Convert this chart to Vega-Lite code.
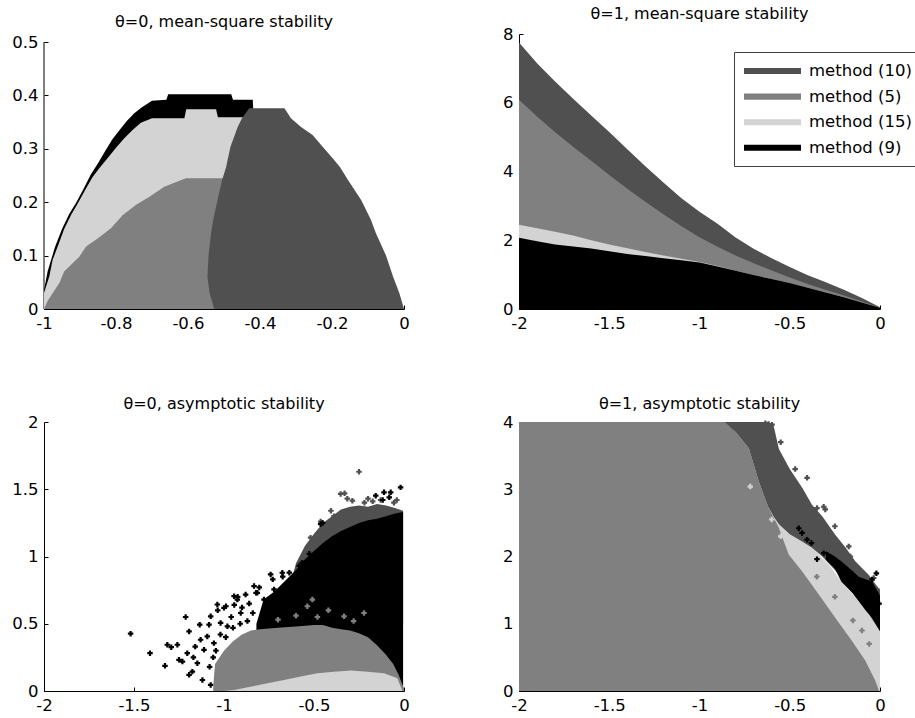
{
"$schema":"https://vega.github.io/schema/vega-lite/v6.json",
"background":"white",
"padding":{"left":11,"top":6,"right":0,"bottom":0},
"config":{
 "font":"DejaVu Sans",
 "view":{"stroke":null},
 "axis":{"domainColor":"black","domainWidth":1,"tickColor":"black","tickSize":-4,"tickWidth":1,"labelColor":"black","labelFont":"DejaVu Sans","labelFontSize":16.5,"labelPadding":10,"grid":false,"title":null,"labelFlush":false,"labelOverlap":false},
 "title":{"font":"DejaVu Sans","fontSize":16,"fontWeight":"normal","color":"black","offset":4,"anchor":"middle"}
},
"datasets":{
 "tl":[
  {"s":"9","x":-1,"y":0.035},{"s":"9","x":-0.99,"y":0.07},{"s":"9","x":-0.97,"y":0.115},{"s":"9","x":-0.95,"y":0.15},{"s":"9","x":-0.93,"y":0.178},{"s":"9","x":-0.91,"y":0.2},{"s":"9","x":-0.89,"y":0.225},{"s":"9","x":-0.87,"y":0.252},{"s":"9","x":-0.85,"y":0.273},{"s":"9","x":-0.83,"y":0.296},{"s":"9","x":-0.81,"y":0.318},{"s":"9","x":-0.79,"y":0.335},{"s":"9","x":-0.77,"y":0.352},{"s":"9","x":-0.75,"y":0.366},{"s":"9","x":-0.73,"y":0.377},{"s":"9","x":-0.7,"y":0.39},{"s":"9","x":-0.66,"y":0.392},{"s":"9","x":-0.655,"y":0.402},{"s":"9","x":-0.48,"y":0.402},{"s":"9","x":-0.475,"y":0.392},{"s":"9","x":-0.42,"y":0.392},{"s":"9","x":-0.418,"y":0.36},
  {"s":"15","x":-1,"y":0.03},{"s":"15","x":-0.985,"y":0.062},{"s":"15","x":-0.976,"y":0.092},{"s":"15","x":-0.957,"y":0.126},{"s":"15","x":-0.944,"y":0.15},{"s":"15","x":-0.925,"y":0.176},{"s":"15","x":-0.906,"y":0.198},{"s":"15","x":-0.883,"y":0.226},{"s":"15","x":-0.865,"y":0.247},{"s":"15","x":-0.846,"y":0.264},{"s":"15","x":-0.823,"y":0.283},{"s":"15","x":-0.8,"y":0.302},{"s":"15","x":-0.777,"y":0.32},{"s":"15","x":-0.754,"y":0.335},{"s":"15","x":-0.731,"y":0.349},{"s":"15","x":-0.7,"y":0.357},{"s":"15","x":-0.61,"y":0.357},{"s":"15","x":-0.605,"y":0.374},{"s":"15","x":-0.522,"y":0.374},{"s":"15","x":-0.517,"y":0.359},{"s":"15","x":-0.42,"y":0.359},
  {"s":"5","x":-1,"y":0.0},{"s":"5","x":-0.99,"y":0.015},{"s":"5","x":-0.957,"y":0.049},{"s":"5","x":-0.944,"y":0.07},{"s":"5","x":-0.902,"y":0.098},{"s":"5","x":-0.883,"y":0.117},{"s":"5","x":-0.851,"y":0.132},{"s":"5","x":-0.814,"y":0.151},{"s":"5","x":-0.781,"y":0.176},{"s":"5","x":-0.744,"y":0.195},{"s":"5","x":-0.707,"y":0.21},{"s":"5","x":-0.666,"y":0.229},{"s":"5","x":-0.606,"y":0.245},{"s":"5","x":-0.49,"y":0.245}
 ],
 "tld":[
  {"y":0,"xa":-0.527,"xb":0.0},{"y":0.03,"xa":-0.54,"xb":-0.013},{"y":0.06,"xa":-0.546,"xb":-0.03},{"y":0.1,"xa":-0.543,"xb":-0.05},{"y":0.142,"xa":-0.536,"xb":-0.078},{"y":0.167,"xa":-0.53,"xb":-0.092},{"y":0.204,"xa":-0.518,"xb":-0.119},{"y":0.242,"xa":-0.505,"xb":-0.156},{"y":0.266,"xa":-0.494,"xb":-0.178},{"y":0.279,"xa":-0.49,"xb":-0.194},{"y":0.304,"xa":-0.482,"xb":-0.226},{"y":0.326,"xa":-0.47,"xb":-0.254},{"y":0.341,"xa":-0.462,"xb":-0.286},{"y":0.357,"xa":-0.45,"xb":-0.314},{"y":0.376,"xa":-0.43,"xb":-0.332}
 ],
 "tlaxis":[{"x":-1,"y0":0,"y1":0.5}],
 "tr":[
  {"m":"method (10)","x":-2,"y":7.75},{"m":"method (10)","x":-1.9,"y":7.15},{"m":"method (10)","x":-1.8,"y":6.62},{"m":"method (10)","x":-1.7,"y":6.12},{"m":"method (10)","x":-1.6,"y":5.63},{"m":"method (10)","x":-1.5,"y":5.15},{"m":"method (10)","x":-1.4,"y":4.65},{"m":"method (10)","x":-1.3,"y":4.15},{"m":"method (10)","x":-1.2,"y":3.68},{"m":"method (10)","x":-1.1,"y":3.22},{"m":"method (10)","x":-1.0,"y":2.83},{"m":"method (10)","x":-0.9,"y":2.48},{"m":"method (10)","x":-0.8,"y":2.08},{"m":"method (10)","x":-0.7,"y":1.75},{"m":"method (10)","x":-0.6,"y":1.48},{"m":"method (10)","x":-0.5,"y":1.22},{"m":"method (10)","x":-0.4,"y":0.98},{"m":"method (10)","x":-0.3,"y":0.78},{"m":"method (10)","x":-0.2,"y":0.56},{"m":"method (10)","x":-0.1,"y":0.32},{"m":"method (10)","x":0,"y":0.05},
  {"m":"method (5)","x":-2,"y":6.09},{"m":"method (5)","x":-1.9,"y":5.6},{"m":"method (5)","x":-1.8,"y":5.14},{"m":"method (5)","x":-1.7,"y":4.72},{"m":"method (5)","x":-1.6,"y":4.31},{"m":"method (5)","x":-1.5,"y":3.9},{"m":"method (5)","x":-1.4,"y":3.5},{"m":"method (5)","x":-1.3,"y":3.12},{"m":"method (5)","x":-1.2,"y":2.76},{"m":"method (5)","x":-1.1,"y":2.41},{"m":"method (5)","x":-1.0,"y":2.09},{"m":"method (5)","x":-0.9,"y":1.81},{"m":"method (5)","x":-0.8,"y":1.56},{"m":"method (5)","x":-0.7,"y":1.33},{"m":"method (5)","x":-0.6,"y":1.12},{"m":"method (5)","x":-0.5,"y":0.92},{"m":"method (5)","x":-0.4,"y":0.73},{"m":"method (5)","x":-0.3,"y":0.55},{"m":"method (5)","x":-0.2,"y":0.39},{"m":"method (5)","x":-0.1,"y":0.22},{"m":"method (5)","x":0,"y":0.04},
  {"m":"method (15)","x":-2,"y":2.45},{"m":"method (15)","x":-1.9,"y":2.35},{"m":"method (15)","x":-1.8,"y":2.25},{"m":"method (15)","x":-1.7,"y":2.14},{"m":"method (15)","x":-1.6,"y":2.0},{"m":"method (15)","x":-1.5,"y":1.88},{"m":"method (15)","x":-1.4,"y":1.77},{"m":"method (15)","x":-1.3,"y":1.66},{"m":"method (15)","x":-1.2,"y":1.56},{"m":"method (15)","x":-1.1,"y":1.46},{"m":"method (15)","x":-1.0,"y":1.37},{"m":"method (15)","x":-0.9,"y":1.25},{"m":"method (15)","x":-0.8,"y":1.11},{"m":"method (15)","x":-0.7,"y":0.99},{"m":"method (15)","x":-0.6,"y":0.87},{"m":"method (15)","x":-0.5,"y":0.76},{"m":"method (15)","x":-0.4,"y":0.62},{"m":"method (15)","x":-0.3,"y":0.48},{"m":"method (15)","x":-0.2,"y":0.34},{"m":"method (15)","x":-0.1,"y":0.19},{"m":"method (15)","x":0,"y":0.04},
  {"m":"method (9)","x":-2,"y":2.07},{"m":"method (9)","x":-1.9,"y":1.97},{"m":"method (9)","x":-1.8,"y":1.88},{"m":"method (9)","x":-1.7,"y":1.82},{"m":"method (9)","x":-1.6,"y":1.76},{"m":"method (9)","x":-1.5,"y":1.68},{"m":"method (9)","x":-1.4,"y":1.6},{"m":"method (9)","x":-1.3,"y":1.54},{"m":"method (9)","x":-1.2,"y":1.48},{"m":"method (9)","x":-1.1,"y":1.42},{"m":"method (9)","x":-1.0,"y":1.35},{"m":"method (9)","x":-0.9,"y":1.24},{"m":"method (9)","x":-0.8,"y":1.11},{"m":"method (9)","x":-0.7,"y":0.99},{"m":"method (9)","x":-0.6,"y":0.87},{"m":"method (9)","x":-0.5,"y":0.76},{"m":"method (9)","x":-0.4,"y":0.62},{"m":"method (9)","x":-0.3,"y":0.48},{"m":"method (9)","x":-0.2,"y":0.34},{"m":"method (9)","x":-0.1,"y":0.19},{"m":"method (9)","x":0,"y":0.04}
 ],
 "bla":[
  {"s":"10","x":-0.62,"y":0.85,"y2":0.5},{"s":"10","x":-0.6,"y":0.95,"y2":0.5},{"s":"10","x":-0.55,"y":1.08,"y2":0.5},{"s":"10","x":-0.5,"y":1.17,"y2":0.5},{"s":"10","x":-0.45,"y":1.25,"y2":0.5},{"s":"10","x":-0.4,"y":1.3,"y2":0.5},{"s":"10","x":-0.35,"y":1.35,"y2":0.5},{"s":"10","x":-0.3,"y":1.37,"y2":0.5},{"s":"10","x":-0.25,"y":1.38,"y2":0.5},{"s":"10","x":-0.2,"y":1.37,"y2":0.5},{"s":"10","x":-0.15,"y":1.39,"y2":0.5},{"s":"10","x":-0.1,"y":1.38,"y2":0.5},{"s":"10","x":-0.05,"y":1.36,"y2":0.5},{"s":"10","x":-0.005,"y":1.34,"y2":0.5},
  {"s":"9","x":-0.82,"y":0.5,"y2":0},{"s":"9","x":-0.78,"y":0.68,"y2":0},{"s":"9","x":-0.72,"y":0.74,"y2":0},{"s":"9","x":-0.66,"y":0.82,"y2":0},{"s":"9","x":-0.6,"y":0.9,"y2":0},{"s":"9","x":-0.55,"y":0.98,"y2":0},{"s":"9","x":-0.5,"y":1.04,"y2":0},{"s":"9","x":-0.45,"y":1.1,"y2":0},{"s":"9","x":-0.4,"y":1.15,"y2":0},{"s":"9","x":-0.35,"y":1.19,"y2":0},{"s":"9","x":-0.3,"y":1.22,"y2":0},{"s":"9","x":-0.25,"y":1.25,"y2":0},{"s":"9","x":-0.2,"y":1.27,"y2":0},{"s":"9","x":-0.15,"y":1.28,"y2":0},{"s":"9","x":-0.1,"y":1.3,"y2":0},{"s":"9","x":-0.05,"y":1.32,"y2":0},{"s":"9","x":-0.005,"y":1.33,"y2":0},
  {"s":"5","x":-1.06,"y":0.03,"y2":0},{"s":"5","x":-1.05,"y":0.2,"y2":0},{"s":"5","x":-1.0,"y":0.3,"y2":0},{"s":"5","x":-0.95,"y":0.37,"y2":0},{"s":"5","x":-0.9,"y":0.42,"y2":0},{"s":"5","x":-0.85,"y":0.45,"y2":0},{"s":"5","x":-0.8,"y":0.46,"y2":0},{"s":"5","x":-0.7,"y":0.47,"y2":0},{"s":"5","x":-0.6,"y":0.48,"y2":0},{"s":"5","x":-0.5,"y":0.49,"y2":0},{"s":"5","x":-0.45,"y":0.49,"y2":0},{"s":"5","x":-0.4,"y":0.47,"y2":0},{"s":"5","x":-0.35,"y":0.46,"y2":0},{"s":"5","x":-0.3,"y":0.45,"y2":0},{"s":"5","x":-0.25,"y":0.43,"y2":0},{"s":"5","x":-0.2,"y":0.4,"y2":0},{"s":"5","x":-0.15,"y":0.34,"y2":0},{"s":"5","x":-0.1,"y":0.27,"y2":0},{"s":"5","x":-0.06,"y":0.2,"y2":0},{"s":"5","x":-0.03,"y":0.12,"y2":0},{"s":"5","x":-0.01,"y":0.05,"y2":0},{"s":"5","x":0,"y":0.02,"y2":0},
  {"s":"15","x":-1.0,"y":0.0,"y2":0},{"s":"15","x":-0.944,"y":0.007,"y2":0},{"s":"15","x":-0.833,"y":0.037,"y2":0},{"s":"15","x":-0.759,"y":0.057,"y2":0},{"s":"15","x":-0.667,"y":0.082,"y2":0},{"s":"15","x":-0.574,"y":0.107,"y2":0},{"s":"15","x":-0.481,"y":0.132,"y2":0},{"s":"15","x":-0.389,"y":0.144,"y2":0},{"s":"15","x":-0.296,"y":0.152,"y2":0},{"s":"15","x":-0.204,"y":0.144,"y2":0},{"s":"15","x":-0.111,"y":0.132,"y2":0},{"s":"15","x":-0.037,"y":0.095,"y2":0},{"s":"15","x":-0.009,"y":0.0,"y2":0}
 ],
 "blp":[
  {"s":"9","x":-1.519,"y":0.426},{"s":"9","x":-1.411,"y":0.281},{"s":"9","x":-1.328,"y":0.187},{"s":"9","x":-1.315,"y":0.344},{"s":"9","x":-1.293,"y":0.326},{"s":"9","x":-1.259,"y":0.344},{"s":"9","x":-1.25,"y":0.232},{"s":"9","x":-1.231,"y":0.219},{"s":"9","x":-1.213,"y":0.55},{"s":"9","x":-1.194,"y":0.443},{"s":"9","x":-1.204,"y":0.281},{"s":"9","x":-1.194,"y":0.12},{"s":"9","x":-1.176,"y":0.144},{"s":"9","x":-1.148,"y":0.207},{"s":"9","x":-1.135,"y":0.493},{"s":"9","x":-1.13,"y":0.381},{"s":"9","x":-1.111,"y":0.306},{"s":"9","x":-1.12,"y":0.082},{"s":"9","x":-1.083,"y":0.493},{"s":"9","x":-1.074,"y":0.555},{"s":"9","x":-1.093,"y":0.406},{"s":"9","x":-1.056,"y":0.356},{"s":"9","x":-1.074,"y":0.045},{"s":"9","x":-1.037,"y":0.643},{"s":"9","x":-1.019,"y":0.506},{"s":"9","x":-1.0,"y":0.618},{"s":"9","x":-0.981,"y":0.481},{"s":"9","x":-0.944,"y":0.705},{"s":"9","x":-0.926,"y":0.68},{"s":"9","x":-0.907,"y":0.58},{"s":"9","x":-0.88,"y":0.717},{"s":"9","x":-0.833,"y":0.78},{"s":"9","x":-0.815,"y":0.73},{"s":"9","x":-0.778,"y":0.68},{"s":"9","x":-0.741,"y":0.867},{"s":"9","x":-0.722,"y":0.755},{"s":"9","x":-0.676,"y":0.879},{"s":"9","x":-0.611,"y":0.854},{"s":"9","x":-0.565,"y":0.954},{"s":"9","x":-0.463,"y":1.24},{"s":"9","x":-0.157,"y":1.452},{"s":"9","x":-0.111,"y":1.477},{"s":"9","x":-0.074,"y":1.477},{"s":"9","x":-0.019,"y":1.514},{"s":"9","x":-0.082,"y":1.44},{"s":"9","x":-0.118,"y":1.42},{"s":"9","x":-0.452,"y":1.25},{"s":"9","x":-0.526,"y":1.02},{"s":"9","x":-0.582,"y":0.93},{"s":"9","x":-0.637,"y":0.88},{"s":"9","x":-0.674,"y":0.85},{"s":"9","x":-0.729,"y":0.83},{"s":"9","x":-0.804,"y":0.77},{"s":"9","x":-0.822,"y":0.73},{"s":"9","x":-0.924,"y":0.7},{"s":"9","x":-0.943,"y":0.64},{"s":"9","x":-0.989,"y":0.63},{"s":"9","x":-1.035,"y":0.6},{"s":"9","x":-1.045,"y":0.3},{"s":"9","x":-1.02,"y":0.42},{"s":"9","x":-0.99,"y":0.4},{"s":"9","x":-0.96,"y":0.55},{"s":"9","x":-0.9,"y":0.62},{"s":"9","x":-0.86,"y":0.65},{"s":"9","x":-0.95,"y":0.47},{"s":"9","x":-0.87,"y":0.52},{"s":"9","x":-0.84,"y":0.58},{"s":"9","x":-0.91,"y":0.5},{"s":"9","x":-1.06,"y":0.25},{"s":"9","x":-1.08,"y":0.18},{"s":"9","x":-1.16,"y":0.33},{"s":"9","x":-1.17,"y":0.25},
  {"s":"10","x":-0.352,"y":1.465},{"s":"10","x":-0.287,"y":1.415},{"s":"10","x":-0.25,"y":1.63},{"s":"10","x":-0.389,"y":1.3},{"s":"10","x":-0.315,"y":1.43},{"s":"10","x":-0.13,"y":1.42},{"s":"10","x":-0.056,"y":1.4},{"s":"10","x":-0.463,"y":1.26},{"s":"10","x":-0.519,"y":1.14},{"s":"10","x":-0.174,"y":1.41},{"s":"10","x":-0.406,"y":1.34},{"s":"10","x":-0.2,"y":1.43},{"s":"10","x":-0.04,"y":1.42},{"s":"10","x":-0.33,"y":1.47},{"s":"10","x":-0.22,"y":1.4},
  {"s":"5","x":-0.537,"y":0.63},{"s":"5","x":-0.509,"y":0.68},{"s":"5","x":-0.333,"y":0.555},{"s":"5","x":-0.222,"y":0.58},{"s":"5","x":-0.481,"y":0.55},{"s":"5","x":-0.6,"y":0.56},{"s":"5","x":-0.42,"y":0.6},{"s":"5","x":-0.7,"y":0.53},{"s":"5","x":-0.28,"y":0.52}
 ],
 "bra":[
  {"s":"15","x":-0.62,"y":2.74,"y2":0},{"s":"15","x":-0.56,"y":2.48,"y2":0},{"s":"15","x":-0.5,"y":2.33,"y2":0},{"s":"15","x":-0.45,"y":2.25,"y2":0},{"s":"15","x":-0.377,"y":2.13,"y2":0},{"s":"15","x":-0.284,"y":1.88,"y2":0},{"s":"15","x":-0.215,"y":1.63,"y2":0},{"s":"15","x":-0.118,"y":1.34,"y2":0},{"s":"15","x":-0.044,"y":1.09,"y2":0},{"s":"15","x":0,"y":0.89,"y2":0},
  {"s":"5","x":-2,"y":4,"y2":0},{"s":"5","x":-0.85,"y":4,"y2":0},{"s":"5","x":-0.8,"y":3.85,"y2":0},{"s":"5","x":-0.727,"y":3.61,"y2":0},{"s":"5","x":-0.672,"y":3.12,"y2":0},{"s":"5","x":-0.617,"y":2.72,"y2":0},{"s":"5","x":-0.561,"y":2.43,"y2":0},{"s":"5","x":-0.506,"y":2.03,"y2":0},{"s":"5","x":-0.432,"y":1.78,"y2":0},{"s":"5","x":-0.34,"y":1.44,"y2":0},{"s":"5","x":-0.248,"y":1.09,"y2":0},{"s":"5","x":-0.155,"y":0.745,"y2":0},{"s":"5","x":-0.081,"y":0.45,"y2":0},{"s":"5","x":-0.026,"y":0.153,"y2":0},{"s":"5","x":-0.005,"y":0.0,"y2":0},
  {"s":"10","x":-0.86,"y":4,"y2":4},{"s":"10","x":-0.8,"y":4,"y2":3.85},{"s":"10","x":-0.727,"y":4,"y2":3.61},{"s":"10","x":-0.672,"y":4,"y2":3.12},{"s":"10","x":-0.62,"y":4,"y2":2.74},{"s":"10","x":-0.59,"y":3.95,"y2":2.6},{"s":"10","x":-0.56,"y":3.6,"y2":2.48},{"s":"10","x":-0.5,"y":3.3,"y2":2.33},{"s":"10","x":-0.43,"y":3.02,"y2":2.22},{"s":"10","x":-0.377,"y":2.77,"y2":2.13},{"s":"10","x":-0.32,"y":2.6,"y2":2.0},{"s":"10","x":-0.25,"y":2.33,"y2":1.8},{"s":"10","x":-0.19,"y":2.13,"y2":1.6},{"s":"10","x":-0.137,"y":1.93,"y2":1.4},{"s":"10","x":-0.063,"y":1.73,"y2":1.15},{"s":"10","x":0,"y":1.5,"y2":0.89},
  {"s":"9","x":-0.3,"y":2.08,"y2":1.95},{"s":"9","x":-0.25,"y":2.0,"y2":1.82},{"s":"9","x":-0.215,"y":1.93,"y2":1.63},{"s":"9","x":-0.15,"y":1.78,"y2":1.45},{"s":"9","x":-0.118,"y":1.7,"y2":1.34},{"s":"9","x":-0.08,"y":1.66,"y2":1.2},{"s":"9","x":-0.044,"y":1.63,"y2":1.09},{"s":"9","x":0,"y":1.42,"y2":0.89}
 ],
 "brp":[
  {"s":"10","x":-0.617,"y":3.97},{"s":"10","x":-0.598,"y":3.96},{"s":"10","x":-0.635,"y":3.98},{"s":"10","x":-0.58,"y":3.59},{"s":"10","x":-0.404,"y":3.17},{"s":"10","x":-0.349,"y":2.72},{"s":"10","x":-0.303,"y":2.7},{"s":"10","x":-0.312,"y":2.74},{"s":"10","x":-0.173,"y":2.15},{"s":"10","x":-0.164,"y":2.0},{"s":"10","x":-0.127,"y":1.81},{"s":"10","x":-0.035,"y":1.68},{"s":"10","x":-0.017,"y":1.51},{"s":"10","x":-0.55,"y":3.7},{"s":"10","x":-0.47,"y":3.3},{"s":"10","x":-0.25,"y":2.45},
  {"s":"9","x":-0.432,"y":2.35},{"s":"9","x":-0.404,"y":2.25},{"s":"9","x":-0.312,"y":2.05},{"s":"9","x":-0.349,"y":1.96},{"s":"9","x":-0.044,"y":1.66},{"s":"9","x":-0.38,"y":2.2},{"s":"9","x":-0.45,"y":2.42},{"s":"9","x":-0.26,"y":1.95},{"s":"9","x":-0.02,"y":1.75},{"s":"9","x":-0.005,"y":1.3},
  {"s":"15","x":-0.719,"y":3.04},{"s":"15","x":-0.6,"y":2.55},{"s":"15","x":-0.55,"y":2.3},{"s":"15","x":-0.45,"y":2.0},{"s":"15","x":-0.4,"y":1.8},{"s":"15","x":-0.3,"y":1.45},{"s":"15","x":-0.2,"y":1.1},{"s":"15","x":-0.1,"y":0.7},{"s":"15","x":-0.05,"y":0.4},
  {"s":"5","x":-0.35,"y":1.7},{"s":"5","x":-0.25,"y":1.4},{"s":"5","x":-0.15,"y":1.05},{"s":"5","x":-0.1,"y":0.9},{"s":"5","x":-0.06,"y":0.7}
 ]
},
"vconcat":[
 {"hconcat":[
  {"width":360,"height":275,
   "title":{"text":"θ=0, mean-square stability"},
   "layer":[
    {"data":{"name":"tlaxis"},"mark":{"type":"rule","color":"black","strokeWidth":1},
     "encoding":{"x":{"field":"x","type":"quantitative","scale":{"domain":[-1,0],"nice":false,"zero":false},"axis":{"values":[-1,-0.8,-0.6,-0.4,-0.2,0],"labelExpr":"datum.value < 0 ? '-' + format(-datum.value, '~g') : format(datum.value, '~g')"}},
                 "y":{"field":"y0","type":"quantitative","scale":{"domain":[0,0.515],"nice":false},"axis":{"domain":false,"values":[0,0.1,0.2,0.3,0.4,0.5],"labelExpr":"format(datum.value, '~g')"}},
                 "y2":{"field":"y1"}}},
    {"data":{"name":"tl"},"transform":[{"filter":"datum.s==='9'"}],"mark":{"type":"area","color":"black"},
     "encoding":{"x":{"field":"x","type":"quantitative"},"y":{"field":"y","type":"quantitative"}}},
    {"data":{"name":"tl"},"transform":[{"filter":"datum.s==='15'"}],"mark":{"type":"area","color":"#d3d3d3"},
     "encoding":{"x":{"field":"x","type":"quantitative"},"y":{"field":"y","type":"quantitative"}}},
    {"data":{"name":"tl"},"transform":[{"filter":"datum.s==='5'"}],"mark":{"type":"area","color":"#808080"},
     "encoding":{"x":{"field":"x","type":"quantitative"},"y":{"field":"y","type":"quantitative"}}},
    {"data":{"name":"tld"},"mark":{"type":"area","orient":"horizontal","color":"#505050"},
     "encoding":{"y":{"field":"y","type":"quantitative"},"x":{"field":"xa","type":"quantitative"},"x2":{"field":"xb"}}}
   ]},
  {"width":361,"height":275,
   "title":{"text":"θ=1, mean-square stability"},
   "data":{"name":"tr"},
   "encoding":{
     "x":{"field":"x","type":"quantitative","scale":{"domain":[-2,0],"nice":false,"zero":false},"axis":{"values":[-2,-1.5,-1,-0.5,0],"labelExpr":"datum.value < 0 ? '-' + format(-datum.value, '~g') : format(datum.value, '~g')"}},
     "y":{"field":"y","type":"quantitative","stack":null,"scale":{"domain":[0,8],"nice":false},"axis":{"values":[0,2,4,6,8],"labelExpr":"format(datum.value, '~g')"}},
     "color":{"field":"m","type":"nominal","scale":{"domain":["method (10)","method (5)","method (15)","method (9)"],"range":["#505050","#808080","#d3d3d3","#000000"]},
       "legend":{"orient":"none","legendX":215,"legendY":18,"title":null,"symbolType":"M-3,-0.32H3V0.32H-3Z","symbolSize":361,"symbolStrokeWidth":0,"symbolOffset":19.5,"labelOffset":27,"labelFont":"DejaVu Sans","labelFontSize":16.5,"labelColor":"black","padding":9.5,"rowPadding":7.6,"strokeColor":"#404040","fillColor":"white","symbolOpacity":1}}
   },
   "layer":[
    {"transform":[{"filter":"datum.m==='method (10)'"}],"mark":{"type":"area","opacity":1}},
    {"transform":[{"filter":"datum.m==='method (5)'"}],"mark":{"type":"area","opacity":1}},
    {"transform":[{"filter":"datum.m==='method (15)'"}],"mark":{"type":"area","opacity":1}},
    {"transform":[{"filter":"datum.m==='method (9)'"}],"mark":{"type":"area","opacity":1}}
   ]}
 ],"spacing":92,"resolve":{"scale":{"color":"independent"},"legend":{"color":"independent"}}},
 {"hconcat":[
  {"width":360,"height":269,
   "title":{"text":"θ=0, asymptotic stability","offset":2},
   "layer":[
    {"data":{"name":"bla"},"transform":[{"filter":"datum.s==='10'"}],"mark":{"type":"area","color":"#505050"},
     "encoding":{"x":{"field":"x","type":"quantitative","scale":{"domain":[-2,0],"nice":false,"zero":false},"axis":{"values":[-2,-1.5,-1,-0.5,0],"labelExpr":"datum.value < 0 ? '-' + format(-datum.value, '~g') : format(datum.value, '~g')"}},
                 "y":{"field":"y","type":"quantitative","scale":{"domain":[0,2],"nice":false},"axis":{"values":[0,0.5,1,1.5,2],"labelExpr":"format(datum.value, '~g')"}},
                 "y2":{"field":"y2"}}},
    {"data":{"name":"blp"},"transform":[{"filter":"datum.s==='10'"}],"mark":{"type":"point","filled":true,"shape":"cross","size":30,"opacity":1,"color":"#505050"},
     "encoding":{"x":{"field":"x","type":"quantitative"},"y":{"field":"y","type":"quantitative"}}},
    {"data":{"name":"bla"},"transform":[{"filter":"datum.s==='9'"}],"mark":{"type":"area","color":"black"},
     "encoding":{"x":{"field":"x","type":"quantitative"},"y":{"field":"y","type":"quantitative"},"y2":{"field":"y2"}}},
    {"data":{"name":"blp"},"transform":[{"filter":"datum.s==='9'"}],"mark":{"type":"point","filled":true,"shape":"cross","size":30,"opacity":1,"color":"black"},
     "encoding":{"x":{"field":"x","type":"quantitative"},"y":{"field":"y","type":"quantitative"}}},
    {"data":{"name":"bla"},"transform":[{"filter":"datum.s==='5'"}],"mark":{"type":"area","color":"#808080"},
     "encoding":{"x":{"field":"x","type":"quantitative"},"y":{"field":"y","type":"quantitative"},"y2":{"field":"y2"}}},
    {"data":{"name":"blp"},"transform":[{"filter":"datum.s==='5'"}],"mark":{"type":"point","filled":true,"shape":"cross","size":30,"opacity":1,"color":"#808080"},
     "encoding":{"x":{"field":"x","type":"quantitative"},"y":{"field":"y","type":"quantitative"}}},
    {"data":{"name":"bla"},"transform":[{"filter":"datum.s==='15'"}],"mark":{"type":"area","color":"#d3d3d3"},
     "encoding":{"x":{"field":"x","type":"quantitative"},"y":{"field":"y","type":"quantitative"},"y2":{"field":"y2"}}}
   ]},
  {"width":361,"height":269,
   "title":{"text":"θ=1, asymptotic stability","offset":2},
   "layer":[
    {"data":{"name":"bra"},"transform":[{"filter":"datum.s==='15'"}],"mark":{"type":"area","color":"#d3d3d3"},
     "encoding":{"x":{"field":"x","type":"quantitative","scale":{"domain":[-2,0],"nice":false,"zero":false},"axis":{"values":[-2,-1.5,-1,-0.5,0],"labelExpr":"datum.value < 0 ? '-' + format(-datum.value, '~g') : format(datum.value, '~g')"}},
                 "y":{"field":"y","type":"quantitative","scale":{"domain":[0,4],"nice":false},"axis":{"values":[0,1,2,3,4],"labelExpr":"format(datum.value, '~g')"}},
                 "y2":{"field":"y2"}}},
    {"data":{"name":"bra"},"transform":[{"filter":"datum.s==='5'"}],"mark":{"type":"area","color":"#808080"},
     "encoding":{"x":{"field":"x","type":"quantitative"},"y":{"field":"y","type":"quantitative"},"y2":{"field":"y2"}}},
    {"data":{"name":"brp"},"transform":[{"filter":"datum.s==='15'"}],"mark":{"type":"point","filled":true,"shape":"cross","size":30,"opacity":1,"color":"#d3d3d3"},
     "encoding":{"x":{"field":"x","type":"quantitative"},"y":{"field":"y","type":"quantitative"}}},
    {"data":{"name":"brp"},"transform":[{"filter":"datum.s==='5'"}],"mark":{"type":"point","filled":true,"shape":"cross","size":30,"opacity":1,"color":"#808080"},
     "encoding":{"x":{"field":"x","type":"quantitative"},"y":{"field":"y","type":"quantitative"}}},
    {"data":{"name":"bra"},"transform":[{"filter":"datum.s==='10'"}],"mark":{"type":"area","color":"#505050"},
     "encoding":{"x":{"field":"x","type":"quantitative"},"y":{"field":"y","type":"quantitative"},"y2":{"field":"y2"}}},
    {"data":{"name":"brp"},"transform":[{"filter":"datum.s==='10'"}],"mark":{"type":"point","filled":true,"shape":"cross","size":30,"opacity":1,"color":"#505050"},
     "encoding":{"x":{"field":"x","type":"quantitative"},"y":{"field":"y","type":"quantitative"}}},
    {"data":{"name":"bra"},"transform":[{"filter":"datum.s==='9'"}],"mark":{"type":"area","color":"black"},
     "encoding":{"x":{"field":"x","type":"quantitative"},"y":{"field":"y","type":"quantitative"},"y2":{"field":"y2"}}},
    {"data":{"name":"brp"},"transform":[{"filter":"datum.s==='9'"}],"mark":{"type":"point","filled":true,"shape":"cross","size":30,"opacity":1,"color":"black"},
     "encoding":{"x":{"field":"x","type":"quantitative"},"y":{"field":"y","type":"quantitative"}}}
   ]}
 ],"spacing":92}
],
"spacing":64,
"resolve":{"scale":{"color":"independent"},"legend":{"color":"independent"}}
}
